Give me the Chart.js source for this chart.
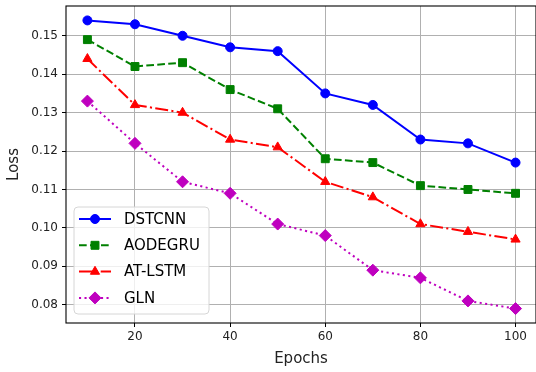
<!DOCTYPE html>
<html>
<head>
<meta charset="utf-8">
<script src="https://cdn.jsdelivr.net/npm/chart.js@4/dist/chart.umd.min.js"></script>
<style>
html,body{margin:0;padding:0;background:#fff;overflow:hidden;}
canvas{display:block;}
</style>
</head>
<body>
<canvas id="c" width="536" height="372"></canvas>
<script>
const epochs = [10, 20, 30, 40, 50, 60, 70, 80, 90, 100];
const dstcnn = [0.154, 0.153, 0.150, 0.147, 0.146, 0.135, 0.132, 0.123, 0.122, 0.117];
const aodegru = [0.149, 0.142, 0.143, 0.136, 0.131, 0.118, 0.117, 0.111, 0.110, 0.109];
const atlstm = [0.144, 0.132, 0.130, 0.123, 0.121, 0.112, 0.108, 0.101, 0.099, 0.097];
const gln = [0.133, 0.122, 0.112, 0.109, 0.101, 0.098, 0.089, 0.087, 0.081, 0.079];
const xTicks = [20, 40, 60, 80, 100];
const yTicks = [0.08, 0.09, 0.10, 0.11, 0.12, 0.13, 0.14, 0.15];
const seriesNames = ['DSTCNN', 'AODEGRU', 'AT-LSTM', 'GLN'];

const FONT = "'DejaVu Sans', sans-serif";
const pts = arr => arr.map((v, i) => ({x: epochs[i], y: v}));

function ds(label, data, color, dash, style, radius) {
  return {
    label, data: pts(data),
    borderColor: color, backgroundColor: color,
    borderWidth: 2, borderDash: dash,
    pointStyle: style, pointRadius: radius, pointHoverRadius: radius,
    pointBorderWidth: 1, pointBorderColor: color, pointBackgroundColor: color,
    tension: 0, fill: false
  };
}

const frameAndLegend = {
  id: 'frameAndLegend',
  afterDraw(chart) {
    const ctx = chart.ctx;
    const a = chart.chartArea;
    ctx.save();
    ctx.strokeStyle = '#000';
    ctx.lineWidth = 1.1;
    ctx.strokeRect(a.left, a.top, a.right - a.left, a.bottom - a.top);
    // legend
    const lx = 74, ly = 207, lw = 135, lh = 107, r = 4;
    ctx.beginPath();
    ctx.moveTo(lx + r, ly);
    ctx.arcTo(lx + lw, ly, lx + lw, ly + lh, r);
    ctx.arcTo(lx + lw, ly + lh, lx, ly + lh, r);
    ctx.arcTo(lx, ly + lh, lx, ly, r);
    ctx.arcTo(lx, ly, lx + lw, ly, r);
    ctx.closePath();
    ctx.fillStyle = 'rgba(255,255,255,0.8)';
    ctx.fill();
    ctx.strokeStyle = '#d6d6d6';
    ctx.lineWidth = 1;
    ctx.stroke();
    chart.data.datasets.forEach((d, i) => {
      const y = 219 + i * 26.3;
      ctx.save();
      ctx.strokeStyle = d.borderColor;
      ctx.lineWidth = d.borderWidth;
      ctx.setLineDash(d.borderDash || []);
      ctx.beginPath();
      ctx.moveTo(79, y);
      ctx.lineTo(111, y);
      ctx.stroke();
      ctx.setLineDash([]);
      ctx.fillStyle = d.backgroundColor;
      ctx.lineWidth = 1;
      Chart.helpers.drawPoint(ctx, {pointStyle: d.pointStyle, radius: d.pointRadius, rotation: 0, borderWidth: 1}, 95, y);
      ctx.restore();
      ctx.fillStyle = '#000';
      ctx.font = '15px ' + FONT;
      ctx.textBaseline = 'middle';
      ctx.textAlign = 'left';
      ctx.fillText(seriesNames[i], 124, y + 1);
    });
    ctx.restore();
  }
};

new Chart(document.getElementById('c'), {
  type: 'line',
  data: {
    datasets: [
      ds(seriesNames[0], dstcnn, '#0000ff', [], 'circle', 4.5),
      ds(seriesNames[1], aodegru, '#008000', [7.7, 3.3], 'rect', 5.6),
      ds(seriesNames[2], atlstm, '#ff0000', [13, 3.3, 2.1, 3.3], 'triangle', 5.3),
      ds(seriesNames[3], gln, '#bf00bf', [2.1, 3.4], 'rectRot', 6)
    ]
  },
  options: {
    responsive: false,
    animation: false,
    events: [],
    layout: {autoPadding: false, padding: {top: 6, right: 0, left: 0, bottom: 0}},
    plugins: {legend: {display: false}, tooltip: {enabled: false}},
    scales: {
      x: {
        type: 'linear', min: 5.5, max: 104.3,
        afterBuildTicks: s => { s.ticks = xTicks.map(v => ({value: v})); },
        afterFit: s => { s.height = 49; s.paddingLeft = 0; s.paddingRight = 0; },
        grid: {color: '#b0b0b0', lineWidth: 1, tickColor: '#000', tickLength: 4, drawTicks: true},
        border: {display: false},
        ticks: {color: '#222', font: {family: FONT, size: 12}, padding: 3, maxRotation: 0,
                callback: v => String(v)},
        title: {display: true, text: 'Epochs', color: '#222', font: {family: FONT, size: 15}, padding: {top: 0, bottom: 4}}
      },
      y: {
        type: 'linear', min: 0.07525, max: 0.15775,
        afterBuildTicks: s => { s.ticks = yTicks.map(v => ({value: v})); },
        afterFit: s => { s.width = 66; s.paddingTop = 0; s.paddingBottom = 0; },
        grid: {color: '#b0b0b0', lineWidth: 1, tickColor: '#000', tickLength: 4, drawTicks: true},
        border: {display: false},
        ticks: {color: '#222', font: {family: FONT, size: 12}, padding: 4,
                callback: v => v.toFixed(2)},
        title: {display: true, text: 'Loss', color: '#222', font: {family: FONT, size: 15}, padding: {top: 5, bottom: 0}}
      }
    }
  },
  plugins: [frameAndLegend]
});
</script>
</body>
</html>
